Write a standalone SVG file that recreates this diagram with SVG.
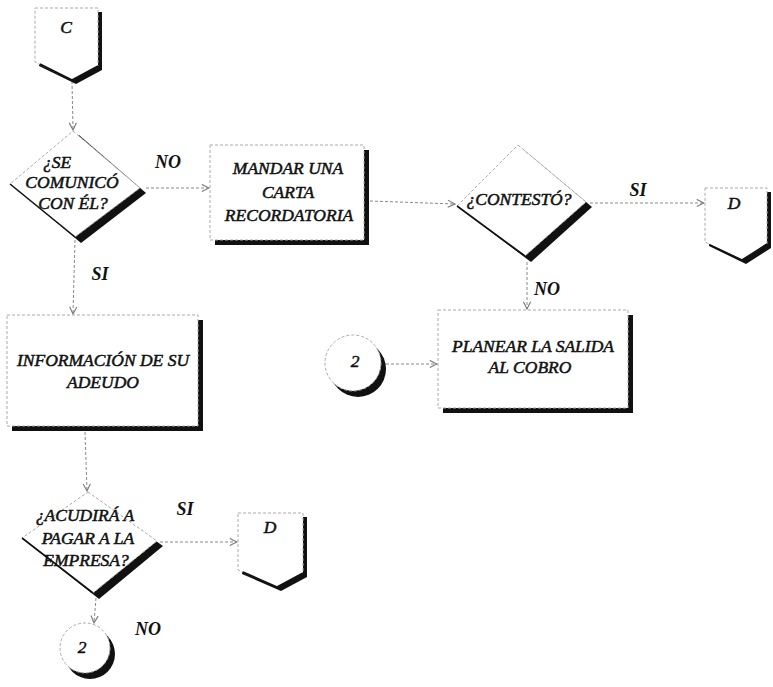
<svg xmlns="http://www.w3.org/2000/svg" width="773" height="687" viewBox="0 0 773 687">
<style>
.bg{fill:#fff}
.shape{fill:#fff;stroke:#aaa;stroke-width:1;stroke-dasharray:3 2}
.shadow{fill:#111;stroke:none}
.edge{stroke:#111;stroke-width:1.6;fill:none}
.t{font-family:"Liberation Serif","Times New Roman",serif;font-style:italic;font-size:17.5px;fill:#111;stroke:#111;stroke-width:0.5;text-anchor:middle}
.lbl{font-family:"Liberation Serif","Times New Roman",serif;font-style:italic;font-weight:bold;font-size:18px;fill:#111;text-anchor:middle}
.conn{stroke:#888;stroke-width:1;stroke-dasharray:3 2;fill:none}
</style>
<defs>
<marker id="arr" viewBox="0 0 10 10" refX="9" refY="5" markerWidth="9" markerHeight="9" orient="auto" markerUnits="userSpaceOnUse">
<path d="M1,1 L9,5 L1,9" fill="none" stroke="#777" stroke-width="1.2"/>
</marker>
</defs>
<rect class="bg" width="773" height="687"/>

<g id="connectors">
<line class="conn" x1="72" y1="81" x2="73" y2="130" marker-end="url(#arr)"/>
<line class="conn" x1="146" y1="188" x2="209" y2="188" marker-end="url(#arr)"/>
<line class="conn" x1="370" y1="201" x2="455" y2="204" marker-end="url(#arr)"/>
<line class="conn" x1="590" y1="203" x2="704" y2="203" marker-end="url(#arr)"/>
<line class="conn" x1="527" y1="262" x2="527" y2="309" marker-end="url(#arr)"/>
<line class="conn" x1="386" y1="364" x2="437" y2="364" marker-end="url(#arr)"/>
<line class="conn" x1="75" y1="240" x2="73" y2="314" marker-end="url(#arr)"/>
<line class="conn" x1="85" y1="432" x2="87" y2="491" marker-end="url(#arr)"/>
<line class="conn" x1="160" y1="542" x2="237" y2="542" marker-end="url(#arr)"/>
<line class="conn" x1="96" y1="598" x2="94" y2="623" marker-end="url(#arr)"/>
</g>

<g id="node-c">
<polygon class="shadow" points="39,12 102,12 102,70 76,84 39,66"/>
<polygon class="shape" points="35,8 98,8 98,66 72,80 35,62"/>
<polyline class="edge" points="40,64 72,80 98,66"/>
<text class="t" x="66" y="33">C</text>
</g>

<g id="node-d1">
<polygon class="shadow" points="79,135 146,193 81,243 16,188"/>
<polygon class="shape" points="73,131 140,188 75,237 10,184"/>
<line class="edge" x1="10" y1="184" x2="75" y2="237"/>
<text class="t" x="57" y="168">¿SE</text>
<text class="t" x="72" y="188">COMUNICÓ</text>
<text class="t" x="73" y="209">CON ÉL?</text>
</g>

<g id="node-mandar">
<rect class="shadow" x="215" y="150" width="154" height="95"/>
<rect class="shape" x="210" y="145" width="154" height="95"/>
<text class="t" x="288" y="174">MANDAR UNA</text>
<text class="t" x="288" y="198">CARTA</text>
<text class="t" x="289" y="221">RECORDATORIA</text>
</g>

<g id="node-contesto">
<polygon class="shadow" points="524,150 592,207 531,262 463,211"/>
<polygon class="shape" points="518,145 586,202 525,256 457,206"/>
<line class="edge" x1="457" y1="206" x2="525" y2="256"/>
<text class="t" x="519" y="205">¿CONTESTÓ?</text>
</g>

<g id="node-d-top">
<polygon class="shadow" points="709,192 771,192 771,248 746,264 709,246"/>
<polygon class="shape" points="705,188 767,188 767,244 742,260 705,242"/>
<polyline class="edge" points="710,245 742,260 767,244"/>
<text class="t" x="734" y="209">D</text>
</g>

<g id="node-planear">
<rect class="shadow" x="443" y="315" width="190" height="98"/>
<rect class="shape" x="438" y="310" width="190" height="98"/>
<text class="t" x="533" y="352">PLANEAR LA SALIDA</text>
<text class="t" x="530" y="373">AL COBRO</text>
</g>

<g id="node-circle-2a">
<circle class="shadow" cx="358" cy="369" r="28"/>
<circle class="shape" cx="353" cy="363" r="28"/>
<text class="t" x="355" y="367">2</text>
</g>

<g id="node-informacion">
<rect class="shadow" x="12" y="320" width="191" height="111"/>
<rect class="shape" x="7" y="315" width="191" height="111"/>
<text class="t" x="103" y="366">INFORMACIÓN DE SU</text>
<text class="t" x="103" y="388">ADEUDO</text>
</g>

<g id="node-acudira">
<polygon class="shadow" points="94,497 163,546 99,599 28,543"/>
<polygon class="shape" points="88,492 157,541 93,593 22,538"/>
<line class="edge" x1="22" y1="538" x2="93" y2="593"/>
<text class="t" x="85" y="521">¿ACUDIRÁ A</text>
<text class="t" x="88" y="544">PAGAR A LA</text>
<text class="t" x="86" y="566">EMPRESA?</text>
</g>

<g id="node-d-bottom">
<polygon class="shadow" points="242,517 307,517 307,577 281,591 242,574"/>
<polygon class="shape" points="238,513 303,513 303,573 277,587 238,570"/>
<polyline class="edge" points="243,572 277,587 303,573"/>
<text class="t" x="270" y="533">D</text>
</g>

<g id="node-circle-2b">
<circle class="shadow" cx="90" cy="654" r="25"/>
<circle class="shape" cx="85" cy="648" r="25"/>
<text class="t" x="82" y="653">2</text>
</g>

<g id="labels">
<text class="lbl" x="168" y="168">NO</text>
<text class="lbl" x="100" y="280">SI</text>
<text class="lbl" x="638" y="196">SI</text>
<text class="lbl" x="547" y="295">NO</text>
<text class="lbl" x="185" y="515">SI</text>
<text class="lbl" x="148" y="635">NO</text>
</g>
</svg>
